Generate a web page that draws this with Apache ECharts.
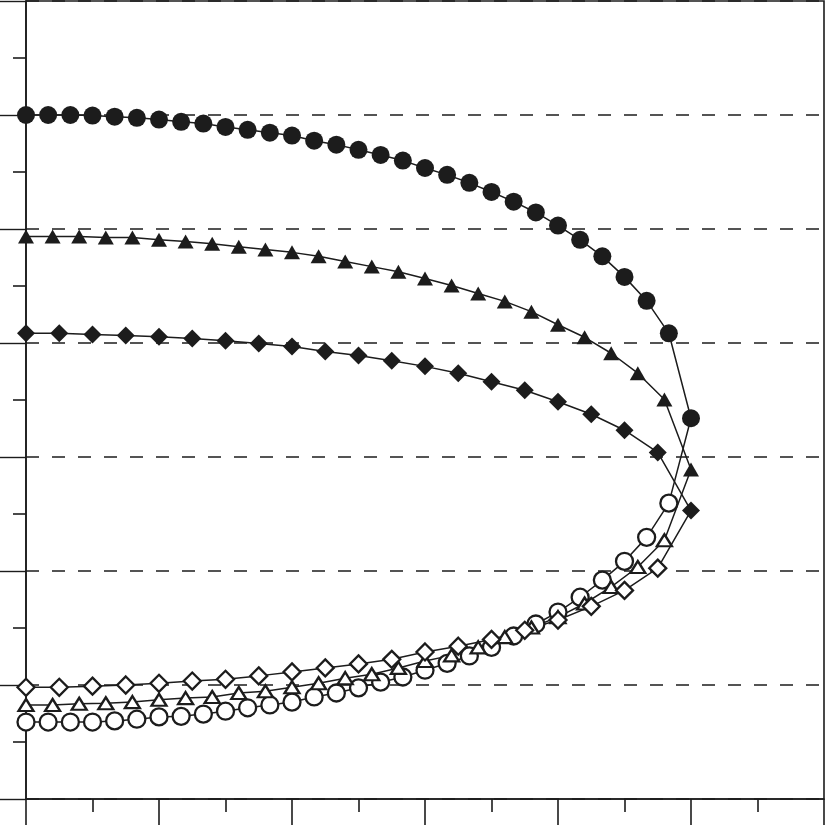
<!DOCTYPE html>
<html>
<head>
<meta charset="utf-8">
<script src="https://cdn.jsdelivr.net/npm/echarts@6/dist/echarts.min.js"></script>
<style>
html,body{margin:0;padding:0;background:#fff;}
#chart{width:825px;height:825px;}
</style>
</head>
<body>
<div id="chart"></div>
<script>
// x sampling grids
const xCircle = [0,0.0333,0.0667,0.1,0.1333,0.1667,0.2,0.2333,0.2667,0.3,0.3333,0.3667,0.4,0.4333,0.4667,0.5,0.5333,0.5667,0.6,0.6333,0.6667,0.7,0.7333,0.7667,0.8,0.8333,0.8667,0.9,0.9333,0.9667,1.0];
const xTriangle = [0,0.04,0.08,0.12,0.16,0.2,0.24,0.28,0.32,0.36,0.4,0.44,0.48,0.52,0.56,0.6,0.64,0.68,0.72,0.76,0.8,0.84,0.88,0.92,0.96,1.0];
const xDiamond = [0,0.05,0.1,0.15,0.2,0.25,0.3,0.35,0.4,0.45,0.5,0.55,0.6,0.65,0.7,0.75,0.8,0.85,0.9,0.95,1.0];

// upper branches (filled markers)
const circleFilled = [1.200,1.200,1.200,1.199,1.197,1.195,1.192,1.188,1.185,1.179,1.174,1.169,1.164,1.155,1.148,1.139,1.130,1.120,1.107,1.095,1.081,1.065,1.048,1.029,1.006,0.981,0.952,0.916,0.874,0.817,0.668];
const triangleFilled = [0.987,0.987,0.987,0.985,0.985,0.981,0.978,0.974,0.969,0.964,0.959,0.952,0.943,0.934,0.925,0.913,0.901,0.887,0.873,0.855,0.832,0.810,0.782,0.747,0.701,0.578];
const diamondFilled = [0.817,0.817,0.815,0.813,0.811,0.808,0.804,0.799,0.794,0.785,0.778,0.769,0.759,0.747,0.732,0.717,0.697,0.675,0.647,0.608,0.506];

// lower branches (open markers), last value joins the upper branch
const circleOpen = [0.135,0.135,0.135,0.135,0.137,0.140,0.144,0.145,0.149,0.154,0.160,0.165,0.170,0.179,0.186,0.195,0.205,0.214,0.226,0.238,0.251,0.266,0.286,0.307,0.328,0.354,0.384,0.417,0.459,0.519,0.668];
const triangleOpen = [0.165,0.165,0.167,0.168,0.170,0.174,0.177,0.179,0.186,0.189,0.196,0.203,0.212,0.219,0.230,0.242,0.252,0.266,0.284,0.301,0.319,0.343,0.372,0.407,0.454,0.578];
const diamondOpen = [0.196,0.196,0.198,0.200,0.203,0.207,0.210,0.216,0.223,0.230,0.237,0.245,0.258,0.268,0.280,0.296,0.314,0.338,0.366,0.405,0.506];

const INK = '#1c1c1c';

function pts(xs, ys, hideLast) {
  return xs.map((x, i) => {
    const item = { value: [x, ys[i]] };
    if (hideLast && i === xs.length - 1) item.symbol = 'none';
    return item;
  });
}

function filledSeries(xs, ys, symbol, size) {
  return {
    type: 'line', data: pts(xs, ys, false), symbol: symbol, symbolSize: size,
    showAllSymbol: true, smooth: false, z: 5,
    lineStyle: { color: INK, width: 1.5 },
    itemStyle: { color: INK, borderWidth: 0 },
    emphasis: { disabled: true }, animation: false
  };
}
function openSeries(xs, ys, symbol, size) {
  return {
    type: 'line', data: pts(xs, ys, true), symbol: symbol, symbolSize: size,
    showAllSymbol: true, smooth: false, z: 3,
    lineStyle: { color: INK, width: 1.5 },
    itemStyle: { color: '#ffffff', borderColor: INK, borderWidth: 2.3 },
    emphasis: { disabled: true }, animation: false
  };
}

const chart = echarts.init(document.getElementById('chart'), null, { renderer: 'canvas' });
chart.setOption({
  animation: false,
  backgroundColor: '#ffffff',
  grid: { left: 26, right: 1, top: 1, bottom: 26, show: true, borderColor: INK, borderWidth: 1.6, backgroundColor: 'transparent' },
  xAxis: {
    type: 'value', min: 0, max: 1.2, interval: 0.2,
    axisLine: { show: true, onZero: false, lineStyle: { color: INK, width: 1.6 } },
    axisTick: { show: true, length: 26, lineStyle: { color: INK, width: 1.6 } },
    minorTick: { show: true, splitNumber: 2, length: 13, lineStyle: { color: INK, width: 1.6 } },
    axisLabel: { show: false },
    splitLine: { show: false }
  },
  yAxis: {
    type: 'value', min: 0, max: 1.4, interval: 0.2,
    axisLine: { show: true, onZero: false, lineStyle: { color: INK, width: 1.6 } },
    axisTick: { show: true, length: 26, lineStyle: { color: INK, width: 1.4 } },
    minorTick: { show: true, splitNumber: 2, length: 13, lineStyle: { color: INK, width: 1.6 } },
    axisLabel: { show: false },
    splitLine: { show: true, lineStyle: { color: INK, width: 1.5, type: [13, 13] } }
  },
  series: [
    openSeries(xCircle, circleOpen, 'circle', 17),
    openSeries(xTriangle, triangleOpen, 'triangle', [15, 12]),
    openSeries(xDiamond, diamondOpen, 'diamond', [17, 17]),
    filledSeries(xCircle, circleFilled, 'circle', 18),
    filledSeries(xTriangle, triangleFilled, 'triangle', [16, 14]),
    filledSeries(xDiamond, diamondFilled, 'diamond', [18, 18])
  ]
});
</script>
</body>
</html>
